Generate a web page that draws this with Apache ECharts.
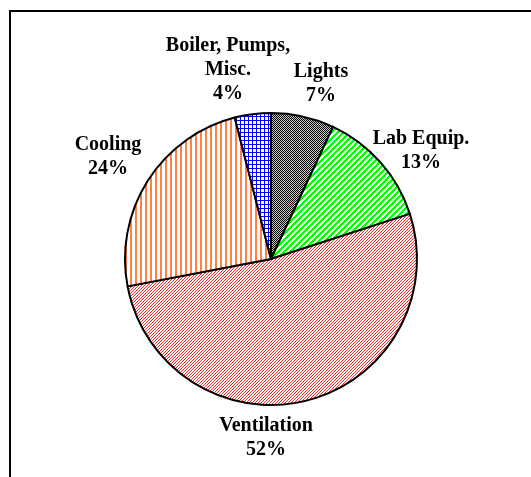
<!DOCTYPE html>
<html>
<head>
<meta charset="utf-8">
<script src="https://cdn.jsdelivr.net/npm/echarts@6/dist/echarts.min.js"></script>
<style>
html,body{margin:0;padding:0;background:#fff;}
#chart{width:531px;height:477px;}
</style>
</head>
<body>
<div id="chart"></div>
<script>
// ---- data ----
var categories = ['Lights', 'Lab Equip.', 'Ventilation', 'Cooling', 'Boiler, Pumps,\nMisc.'];
var shares = [7, 13, 52, 24, 4];

// ---- label anchor positions (layout only) ----
var labelAnchors = [[321, 84], [421, 151], [266, 438], [108, 157], [228, 70]];

function makePattern(w, h, fg, bg, test) {
  var c = document.createElement('canvas');
  c.width = w; c.height = h;
  var ctx = c.getContext('2d');
  ctx.fillStyle = bg; ctx.fillRect(0, 0, w, h);
  ctx.fillStyle = fg;
  for (var y = 0; y < h; y++) for (var x = 0; x < w; x++) {
    if (test(x, y)) ctx.fillRect(x, y, 1, 1);
  }
  return { image: c, repeat: 'repeat' };
}

var patterns = [
  makePattern(2, 2, '#000000', '#c8c8c8', function (x, y) { return (x + y) % 2 === 0; }),
  makePattern(6, 6, '#00ff00', '#ffffff', function (x, y) { return (x + y) % 6 < 3; }),
  makePattern(3, 3, '#ff2a2a', '#ffffff', function (x, y) { return (x + y) % 3 === 0; }),
  makePattern(5, 5, '#ff8040', '#ffffff', function (x, y) { return x % 5 < 2; }),
  makePattern(4, 4, '#0000ff', '#ffffff', function (x, y) { return x % 4 === 0 || y % 4 === 0; })
];

var chart = echarts.init(document.getElementById('chart'), null, { renderer: 'canvas' });
chart.setOption({
  animation: false,
  backgroundColor: '#ffffff',
  graphic: [{
    type: 'rect',
    shape: { x: 10, y: 11, width: 600, height: 600 },
    style: { fill: 'none', stroke: '#000', lineWidth: 2 },
    silent: true,
    z: 100
  }],
  series: [{
    type: 'pie',
    center: [271, 259],
    radius: 146,
    startAngle: 90,
    clockwise: true,
    silent: true,
    avoidLabelOverlap: false,
    itemStyle: { borderColor: '#000', borderWidth: 2 },
    label: {
      show: true,
      position: 'outside',
      fontFamily: '"Liberation Serif", "Times New Roman", serif',
      fontWeight: 'bold',
      fontSize: 20,
      lineHeight: 24,
      color: '#000',
      align: 'center',
      formatter: function (p) { return p.name + '\n' + p.value + '%'; }
    },
    labelLine: { show: false },
    labelLayout: function (p) {
      var a = labelAnchors[p.dataIndex];
      return { x: a[0], y: a[1], align: 'center', verticalAlign: 'middle' };
    },
    data: categories.map(function (name, i) {
      return { name: name, value: shares[i], itemStyle: { color: patterns[i] } };
    })
  }]
});
</script>
</body>
</html>
